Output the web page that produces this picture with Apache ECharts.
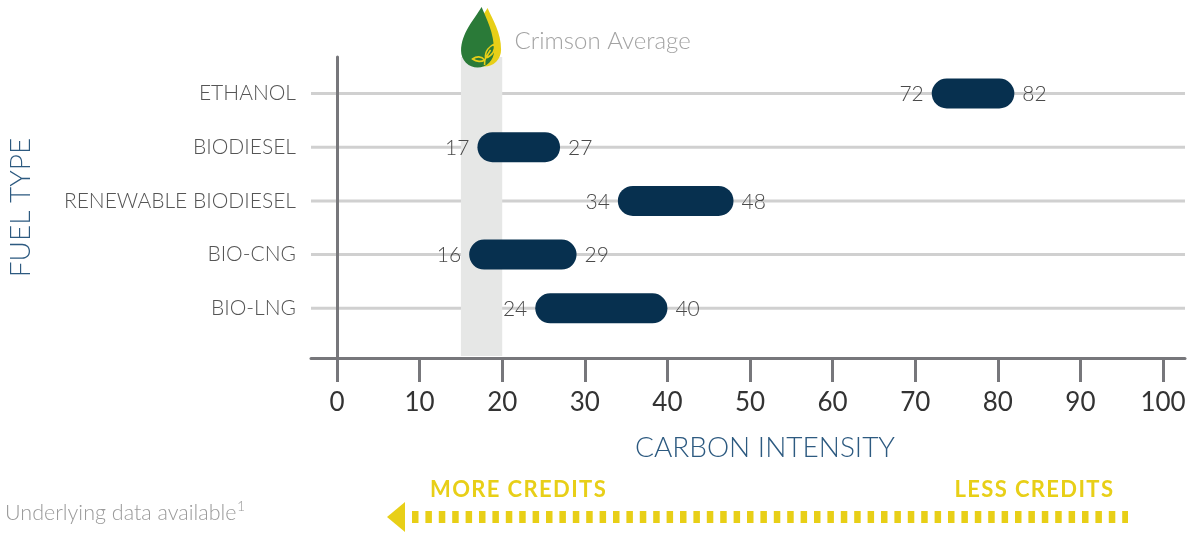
<!DOCTYPE html>
<html>
<head>
<meta charset="utf-8">
<title>Carbon Intensity by Fuel Type</title>
<script src="https://cdn.jsdelivr.net/npm/echarts@6/dist/echarts.min.js"></script>
<style>
  html, body { margin: 0; padding: 0; background: #fff; }
  #chart { width: 1198px; height: 534px; }
</style>
</head>
<body>
<div id="chart"></div>
<script>
const fuelTypes = ['ETHANOL', 'BIODIESEL', 'RENEWABLE BIODIESEL', 'BIO-CNG', 'BIO-LNG']
const ciLow = [72, 17, 34, 16, 24]
const ciHigh = [82, 27, 48, 29, 40]
const xTicks = [0, 10, 20, 30, 40, 50, 60, 70, 80, 90, 100]
const crimsonRange = [15, 20]

// axis runs a little past 0 and 100 so the grid lines stick out like the original
const X_MIN = -3.15
const X_MAX = 102.66
const Y_MIN = -0.68
const Y_MAX = 4.925

const NAVY = '#07304f'
const YELLOW = '#e8cf17'
const AXIS_GREY = '#77777b'
const FONT = 'Lato, "Open Sans", sans-serif'

// canvas text has no letter-spacing here, so pad with hair spaces
const spaced = (s) => s.split('').join('\u200A')

function renderGridLine(params, api) {
  const i = api.value(1)
  const a = api.coord([X_MIN, i])
  const b = api.coord([X_MAX, i])
  return {
    type: 'line',
    shape: { x1: a[0], y1: a[1], x2: b[0], y2: b[1] },
    style: { stroke: '#d0d0d0', lineWidth: 3 },
  }
}

// grey average band plus the drop icon and its caption on top
function renderBand(params, api) {
  const tl = api.coord([api.value(0), Y_MIN])
  const br = api.coord([api.value(1), Y_MAX])
  const cx = (tl[0] + br[0]) / 2
  return {
    type: 'group',
    children: [
      {
        type: 'rect',
        shape: { x: tl[0], y: tl[1], width: br[0] - tl[0], height: br[1] - tl[1] - 2 },
        style: { fill: '#e6e7e6' },
      },
      {
        type: 'group',
        x: cx,
        y: 51,
        children: [
          {
            type: 'path',
            shape: { pathData: 'M6,-43 C11,-31 19.5,-19 19.5,-1 A16.5,16.5 0 0 1 -13.5,-1 C-13.5,-19 -1,-31 6,-43 Z' },
            style: { fill: YELLOW },
          },
          {
            type: 'path',
            shape: { pathData: 'M0,-44 C5,-32 12.5,-18 12.5,0 A16.5,16.5 0 0 1 -20.5,0 C-20.5,-18 -7,-32 0,-44 Z' },
            style: { fill: '#2a7a38' },
          },
          {
            type: 'path',
            shape: { pathData: 'M4,7 C3,0 8,-5 13,-7 C14,-1 11,5 4,7 Z M4,7 L9,-1 M3,9 C0,5 -5,5 -9,8 C-5,11 0,11 3,9 Z M3,14 C3,11 3,9 4,7' },
            style: { fill: null, stroke: YELLOW, lineWidth: 1.6 },
          },
        ],
      },
      {
        type: 'text',
        x: cx + 33,
        y: 41,
        style: { text: 'Crimson Average', fill: '#a3a3a3', fontSize: 24, fontWeight: 300, fontFamily: FONT, verticalAlign: 'middle' },
      },
    ],
  }
}

function renderRange(params, api) {
  const row = api.value(2)
  const lo = api.value(0)
  const hi = api.value(1)
  const s = api.coord([lo, row])
  const e = api.coord([hi, row])
  const h = 30
  const labelStyle = {
    fill: '#4a4a4a',
    fontSize: 21,
    fontWeight: 300,
    fontFamily: FONT,
    verticalAlign: 'middle',
  }
  return {
    type: 'group',
    children: [
      {
        type: 'rect',
        shape: { x: s[0], y: s[1] - h / 2, width: e[0] - s[0], height: h, r: h / 2 },
        style: { fill: NAVY },
      },
      { type: 'text', x: s[0] - 8, y: s[1] + 1, style: { ...labelStyle, text: String(lo), align: 'right' } },
      { type: 'text', x: e[0] + 8, y: s[1] + 1, style: { ...labelStyle, text: String(hi), align: 'left' } },
    ],
  }
}

function buildOption() {
  return {
    animation: false,
    grid: { left: 311, right: 13, top: 57, bottom: 176, containLabel: false, outerBoundsMode: 'none' },
    xAxis: {
      type: 'value',
      min: X_MIN,
      max: X_MAX,
      z: 5,
      axisLine: { onZero: false, lineStyle: { color: AXIS_GREY, width: 3 } },
      axisTick: { show: true, length: 24, customValues: xTicks, lineStyle: { color: AXIS_GREY, width: 3 } },
      axisLabel: { customValues: xTicks, margin: 32, color: '#333', fontSize: 26, fontFamily: FONT },
      splitLine: { show: false },
      name: 'CARBON INTENSITY',
      nameLocation: 'middle',
      nameGap: 76,
      nameTextStyle: { color: '#2d5a80', fontSize: 28, fontWeight: 300, fontFamily: FONT, padding: [0, 0, 0, 34] },
    },
    yAxis: {
      type: 'value',
      inverse: true,
      min: Y_MIN,
      max: Y_MAX,
      z: 5,
      axisLine: { onZero: true, lineStyle: { color: AXIS_GREY, width: 3 } },
      axisTick: { show: false },
      axisLabel: {
        customValues: fuelTypes.map((_, i) => i),
        formatter: (v) => fuelTypes[v] || '',
        margin: 15,
        color: '#555',
        fontSize: 21,
        fontWeight: 300,
        fontFamily: FONT,
      },
      splitLine: { show: false },
      name: 'FUEL TYPE',
      nameLocation: 'middle',
      nameRotate: 90,
      nameGap: 276,
      nameTextStyle: { color: '#2d5a80', fontSize: 28, fontWeight: 300, fontFamily: FONT },
    },
    graphic: [
      {
        type: 'text',
        x: 5,
        y: 513,
        style: { text: 'Underlying data available', fill: '#9a9a9a', fontSize: 21.5, fontWeight: 300, fontFamily: FONT, verticalAlign: 'middle' },
      },
      {
        type: 'text',
        x: 237,
        y: 506,
        style: { text: '1', fill: '#9a9a9a', fontSize: 14, fontWeight: 300, fontFamily: FONT, verticalAlign: 'middle' },
      },
      {
        type: 'text',
        x: 430,
        y: 490,
        style: { text: spaced('MORE CREDITS'), fill: YELLOW, fontSize: 22, fontWeight: 'bold', fontFamily: FONT, verticalAlign: 'middle' },
      },
      {
        type: 'text',
        x: 1113,
        y: 490,
        style: { text: spaced('LESS CREDITS'), fill: YELLOW, fontSize: 22, fontWeight: 'bold', fontFamily: FONT, verticalAlign: 'middle', align: 'right' },
      },
      {
        type: 'polygon',
        shape: { points: [[387, 517], [405, 502], [405, 532]] },
        style: { fill: YELLOW },
      },
      {
        type: 'line',
        shape: { x1: 412, y1: 517, x2: 1128, y2: 517 },
        style: { stroke: YELLOW, lineWidth: 12, lineDash: [6.5, 6.9] },
      },
    ],
    series: [
      {
        type: 'custom',
        z: 1,
        renderItem: renderGridLine,
        data: fuelTypes.map((_, i) => [0, i]),
        encode: { x: 0, y: 1 },
        silent: true,
      },
      {
        type: 'custom',
        z: 2,
        renderItem: renderBand,
        data: [crimsonRange],
        encode: { x: [0, 1] },
        silent: true,
      },
      {
        type: 'custom',
        z: 3,
        renderItem: renderRange,
        data: fuelTypes.map((_, i) => [ciLow[i], ciHigh[i], i]),
        encode: { x: [0, 1], y: 2 },
      },
    ],
  }
}

const chart = echarts.init(document.getElementById('chart'))
chart.setOption(buildOption())
</script>
</body>
</html>
